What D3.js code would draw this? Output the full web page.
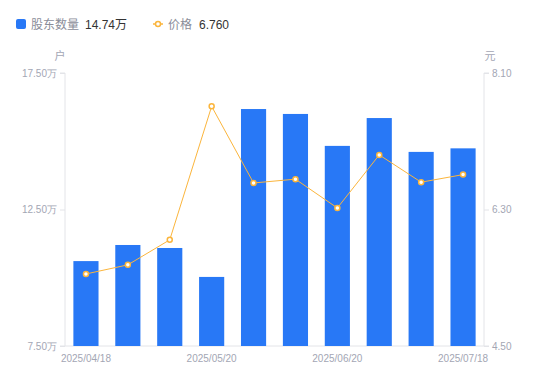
<!DOCTYPE html>
<html>
<head>
<meta charset="utf-8">
<script src="https://cdn.jsdelivr.net/npm/d3@7"></script>
<style>
  body { margin: 0; background: #fff; font-family: "Noto Sans CJK SC", "Noto Sans", sans-serif; }
</style>
</head>
<body>
<svg id="chart"></svg>
<script>
// data
const dates = ["2025/04/18", "2025/04/30", "2025/05/09", "2025/05/20", "2025/05/30",
               "2025/06/10", "2025/06/20", "2025/06/30", "2025/07/10", "2025/07/18"];
const holders = [10.61, 11.20, 11.09, 10.03, 16.18, 16.00, 14.83, 15.85, 14.61, 14.74]; // 万户
const prices = [5.45, 5.57, 5.90, 7.66, 6.65, 6.70, 6.32, 7.02, 6.66, 6.760];
const leftTicks = [7.5, 12.5, 17.5];
const rightTicks = [4.5, 6.3, 8.1];
const shownDates = ["2025/04/18", "2025/05/20", "2025/06/20", "2025/07/18"];

const W = 550, H = 381;
const margin = { top: 73, right: 66, bottom: 35, left: 65 };
const width = W - margin.left - margin.right;
const height = H - margin.top - margin.bottom;

const barColor = "#2878f6";
const lineColor = "#fbb53c";
const axisText = "#a3a6b4";
const numFont = "'Liberation Sans', Arial, sans-serif";

const svg = d3.select("#chart").attr("width", W).attr("height", H);
const g = svg.append("g").attr("transform", `translate(${margin.left},${margin.top})`);

// scales
const x = d3.scaleBand().domain(dates).range([0, width]).paddingInner(0.4).paddingOuter(0.2);
const yL = d3.scaleLinear().domain([7.5, 17.5]).range([height, 0]);
const yR = d3.scaleLinear().domain([4.5, 8.1]).range([height, 0]);

// axes
const leftAxis = g.append("g")
    .call(d3.axisLeft(yL).tickValues(leftTicks).tickSize(5).tickPadding(3)
        .tickFormat(d => d3.format(".2f")(d) + "万"));
const rightAxis = g.append("g")
    .attr("transform", `translate(${width},0)`)
    .call(d3.axisRight(yR).tickValues(rightTicks).tickSize(5).tickPadding(3)
        .tickFormat(d3.format(".2f")));
[leftAxis, rightAxis].forEach(a => {
    a.select(".domain").attr("stroke", "#e3e4e8");
    a.selectAll(".tick line").attr("stroke", "#e3e4e8");
    a.selectAll(".tick text").attr("fill", axisText).style("font-size", "10px")
        .style("font-family", numFont);
});
rightAxis.select(".domain").attr("d", `M5,0H0V${height}H5`);
leftAxis.select(".domain").attr("d", `M-5,0H0V${height}H-5`);

// bottom axis line
g.append("line")
    .attr("x1", 0).attr("x2", width)
    .attr("y1", height).attr("y2", height)
    .attr("stroke", "#e3e4e8");

// x labels
g.selectAll(".xlab")
    .data(shownDates)
    .join("text")
    .attr("class", "xlab")
    .attr("x", d => x(d) + x.bandwidth() / 2)
    .attr("y", height + 16)
    .attr("text-anchor", "middle")
    .attr("fill", axisText)
    .style("font-size", "10px")
    .style("font-family", numFont)
    .text(d => d);

// unit labels
g.append("text").attr("x", -5).attr("y", -13).attr("text-anchor", "middle")
    .attr("fill", axisText).style("font-size", "11px").text("户");
g.append("text").attr("x", width + 6).attr("y", -13).attr("text-anchor", "middle")
    .attr("fill", axisText).style("font-size", "11px").text("元");

// bars
g.selectAll(".bar")
    .data(holders)
    .join("rect")
    .attr("class", "bar")
    .attr("x", (d, i) => x(dates[i]))
    .attr("y", d => yL(d))
    .attr("width", x.bandwidth())
    .attr("height", d => height - yL(d))
    .attr("fill", barColor);

// price line
const line = d3.line()
    .x((d, i) => x(dates[i]) + x.bandwidth() / 2)
    .y(d => yR(d));
g.append("path")
    .datum(prices)
    .attr("fill", "none")
    .attr("stroke", lineColor)
    .attr("stroke-width", 1)
    .attr("d", line);
g.selectAll(".pt")
    .data(prices)
    .join("circle")
    .attr("class", "pt")
    .attr("cx", (d, i) => x(dates[i]) + x.bandwidth() / 2)
    .attr("cy", d => yR(d))
    .attr("r", 2.5)
    .attr("fill", "#fff")
    .attr("stroke", lineColor)
    .attr("stroke-width", 1.5);

// legend
const legend = svg.append("g").attr("transform", "translate(16,24)");
legend.append("rect").attr("x", 0).attr("y", -5).attr("width", 10).attr("height", 10)
    .attr("rx", 2).attr("fill", barColor);
legend.append("text").attr("x", 15).attr("y", 4.5).attr("fill", "#8a8d99")
    .style("font-size", "12px").text("股东数量");
legend.append("text").attr("x", 69).attr("y", 4.5).attr("fill", "#333")
    .style("font-size", "12px").style("font-family", numFont)
    .text(d3.format(".2f")(holders[holders.length - 1]))
    .append("tspan").style("font-family", "'Noto Sans CJK SC', sans-serif").text("万");

legend.append("line").attr("x1", 137).attr("x2", 147).attr("y1", 0).attr("y2", 0)
    .attr("stroke", lineColor).attr("stroke-width", 1.5);
legend.append("circle").attr("cx", 142).attr("cy", 0).attr("r", 2.5)
    .attr("fill", "#fff").attr("stroke", lineColor).attr("stroke-width", 1.5);
legend.append("text").attr("x", 152).attr("y", 4.5).attr("fill", "#8a8d99")
    .style("font-size", "12px").text("价格");
legend.append("text").attr("x", 183).attr("y", 4.5).attr("fill", "#333")
    .style("font-size", "12px").style("font-family", numFont)
    .text(d3.format(".3f")(prices[prices.length - 1]));
</script>
</body>
</html>
